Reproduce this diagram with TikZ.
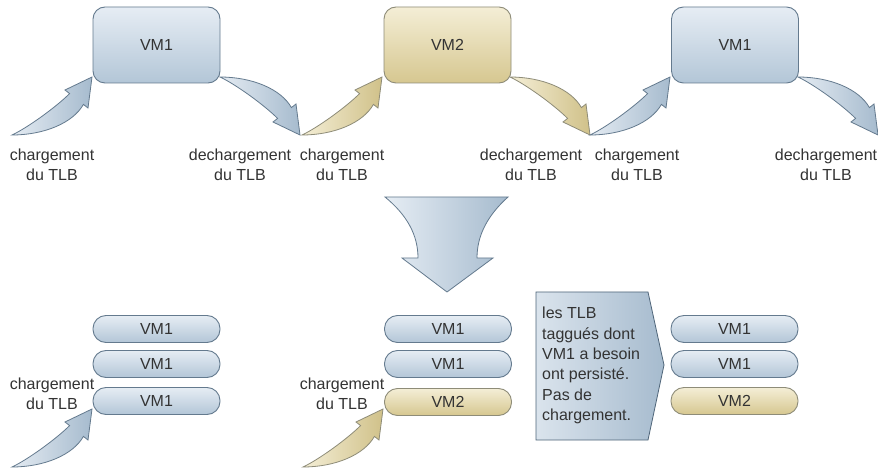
\documentclass[tikz,border=0pt]{standalone}
\usepackage{fontspec}
\setmainfont{Liberation Sans}

\definecolor{bluetop}{HTML}{E6EDF4}
\definecolor{bluebot}{HTML}{B3C6D7}
\definecolor{goldtop}{HTML}{F4EED6}
\definecolor{goldbot}{HTML}{D6C790}
\definecolor{bluelight}{HTML}{E4EBF2}
\definecolor{bluedark}{HTML}{A6BBCE}
\definecolor{goldlight}{HTML}{F4EED6}
\definecolor{golddark}{HTML}{D0C189}
\definecolor{edgeblue}{HTML}{647A8E}
\definecolor{edgegold}{HTML}{8E8C78}
\definecolor{noteedge}{HTML}{4F6579}
\definecolor{ink}{HTML}{333333}

% curved block arrow, tail at the origin, head up and to the right
\newcommand\tlbcurve{(0,0) .. controls (15,-7) and (43,-27) .. (57.6,-41.4) -- (53,-45) -- (80,-58)
  -- (76,-27) -- (71.4,-30.6) .. controls (61,-12) and (32,0) .. (0,0) -- cycle}

\begin{document}
\begin{tikzpicture}[x=1pt,y=-1pt,
  txt/.style={font=\fontsize{16}{20}\selectfont, text=ink},
  vmbox/.style={txt, draw=edgeblue, line width=0.9pt, rounded corners=12pt,
    minimum width=127pt, minimum height=76pt, inner sep=0pt},
  pill/.style={txt, draw=edgeblue, line width=0.9pt, rounded corners=13pt,
    minimum width=127pt, minimum height=27pt, inner sep=0pt},
  bluefill/.style={top color=bluetop, bottom color=bluebot},
  goldfill/.style={top color=goldtop, bottom color=goldbot, draw=edgegold},
  bluearrow/.style={draw=edgeblue, line width=0.8pt, left color=bluelight, right color=bluedark},
  goldarrow/.style={draw=edgegold, line width=0.8pt, left color=goldlight, right color=golddark},
  lbl/.style={txt, align=center, inner sep=0pt}]

\useasboundingbox[fill=white] (0,0) rectangle (878,470);

% tails of the curved arrows
\coordinate (c1) at (12,135);
\coordinate (d1) at (220,77);
\coordinate (c2) at (302,135);
\coordinate (d2) at (510,77);
\coordinate (c3) at (590,135);
\coordinate (d3) at (798,77);
\coordinate (c4) at (12,467);
\coordinate (c5) at (303,467);

% loading / unloading arrows
\begin{scope}[shift={(c1)}] \path[bluearrow] \tlbcurve; \end{scope}
\begin{scope}[shift={(d1)}, yscale=-1] \path[bluearrow] \tlbcurve; \end{scope}
\begin{scope}[shift={(c2)}] \path[goldarrow] \tlbcurve; \end{scope}
\begin{scope}[shift={(d2)}, yscale=-1] \path[goldarrow] \tlbcurve; \end{scope}
\begin{scope}[shift={(c3)}] \path[bluearrow] \tlbcurve; \end{scope}
\begin{scope}[shift={(d3)}, yscale=-1] \path[bluearrow] \tlbcurve; \end{scope}
\begin{scope}[shift={(c4)}] \path[bluearrow] \tlbcurve; \end{scope}
\begin{scope}[shift={(c5)}] \path[goldarrow] \tlbcurve; \end{scope}

% virtual machines, top row
\node[vmbox, bluefill] (vma) at (156.5,45) {VM1};
\node[vmbox, goldfill] (vmb) at (447.5,45) {VM2};
\node[vmbox, bluefill] (vmc) at (735,45) {VM1};

% labels under the top row
\node[lbl] (la1) at (52,165) {chargement\\du TLB};
\node[lbl] (la2) at (240,165) {dechargement\\du TLB};
\node[lbl] (la3) at (342,165) {chargement\\du TLB};
\node[lbl] (la4) at (531,165) {dechargement\\du TLB};
\node[lbl] (la5) at (637,165) {chargement\\du TLB};
\node[lbl] (la6) at (826,165) {dechargement\\du TLB};

% big downward arrow
\path[draw=edgeblue, line width=0.8pt, left color=bluetop, right color=bluedark]
  (385,197) -- (508,197) .. controls (488,215) and (477,235) .. (477,258)
  -- (493,258) -- (447,292) -- (402,258) -- (418,258)
  .. controls (418,235) and (407,215) .. (385,197) -- cycle;

% tagged TLB stacks
\node[pill, bluefill] (p11) at (156.5,329) {VM1};
\node[pill, bluefill] (p12) at (156.5,364) {VM1};
\node[pill, bluefill] (p13) at (156.5,401) {VM1};

\node[pill, bluefill] (p21) at (448,329) {VM1};
\node[pill, bluefill] (p22) at (448,364) {VM1};
\node[pill, goldfill] (p23) at (448,402) {VM2};

\node[pill, bluefill] (p31) at (734.5,329) {VM1};
\node[pill, bluefill] (p32) at (734.5,364) {VM1};
\node[pill, goldfill] (p33) at (734.5,401) {VM2};

\node[lbl] (lb1) at (52,394) {chargement\\du TLB};
\node[lbl] (lb2) at (342,394) {chargement\\du TLB};

% explanation callout
\path[draw=noteedge, line width=0.8pt, left color=bluelight!80!bluebot, right color=bluedark]
  (536,292) -- (648,292) -- (664,365) -- (648,440) -- (536,440) -- cycle;
\node[txt, anchor=north west, align=left, inner sep=0pt,
  font=\fontsize{16}{20.4}\selectfont] (note) at (542,307)
  {les TLB\\taggués dont\\VM1 a besoin\\ont persisté.\\Pas de\\chargement.};
\end{tikzpicture}
\end{document}
